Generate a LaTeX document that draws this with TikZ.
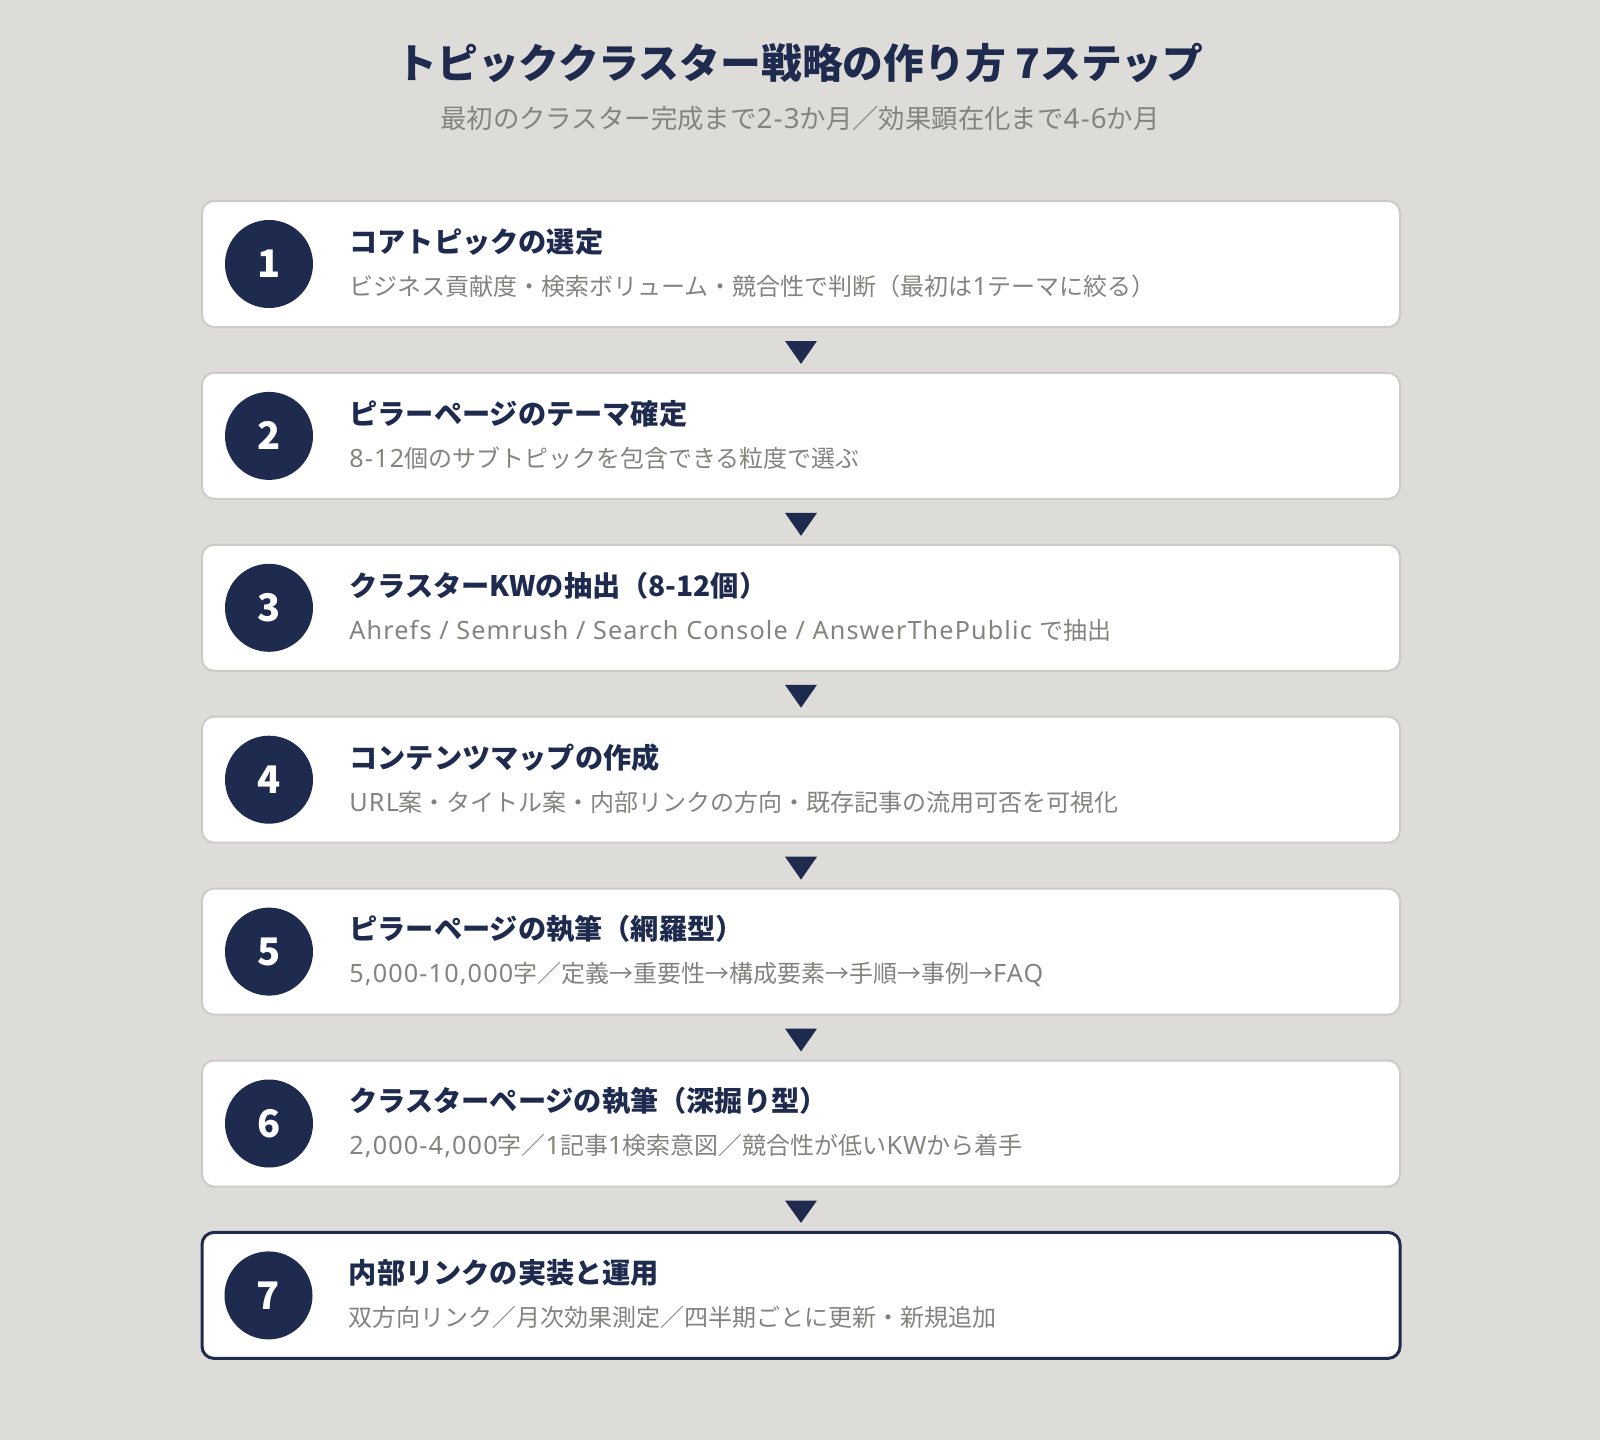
\documentclass[tikz,border=0pt]{standalone}
\usepackage{fontspec}
\setmainfont{Noto Sans}[Scale=1.05,LetterSpace=4.5,BoldFont={Noto Sans CJK JP/B},BoldFeatures={Scale=1,LetterSpace=0}]
\newfontfamily\cjkfont{Noto Sans CJK JP}
\usetikzlibrary{positioning,calc}
% Japanese characters go to the CJK font, the rest stays in Noto Sans
\XeTeXinterchartokenstate=1
\newXeTeXintercharclass\cjkclass
\newcount\cjkcode
\newcommand\markcjk[2]{\cjkcode=#1\relax
    \loop\XeTeXcharclass\cjkcode=\cjkclass\relax
    \ifnum\cjkcode<#2\advance\cjkcode by 1\repeat}
\markcjk{"3000}{"30FF}
\markcjk{"4E00}{"9FFF}
\markcjk{"FF00}{"FFEF}
\XeTeXcharclass"2192=\cjkclass
\XeTeXinterchartoks 0 \cjkclass={\begingroup\cjkfont}
\XeTeXinterchartoks 4095 \cjkclass={\begingroup\cjkfont}
\XeTeXinterchartoks \cjkclass 0={\endgroup}
\XeTeXinterchartoks \cjkclass 4095={\endgroup}
\definecolor{navy}{HTML}{1E2B4E}
\definecolor{paper}{HTML}{DEDCD8}
\definecolor{greytext}{HTML}{85837E}
\definecolor{rim}{HTML}{CDCBC6}
\tikzstyle{stepbox}=[draw=rim,line width=1pt,fill=white,rounded corners=6pt,minimum width=599pt,minimum height=63pt,inner sep=0pt]
\tikzstyle{finalbox}=[stepbox,draw=navy,line width=1.5pt]
\tikzstyle{badge}=[circle,fill=navy,minimum size=44pt,inner sep=0pt,text=white,font=\bfseries\fontsize{19}{19}\selectfont]
\tikzstyle{heading}=[anchor=west,text=navy,font=\bfseries\fontsize{14.1}{15}\selectfont,inner sep=0pt]
\tikzstyle{note}=[anchor=west,text=greytext,font=\fontsize{12}{13}\selectfont,inner sep=0pt]
\tikzstyle{pointer}=[fill=navy]
\begin{document}
\begin{tikzpicture}[x=0.5pt,y=-0.5pt]
    \useasboundingbox[fill=paper] (0,0) rectangle (1600,1440);
    % Title and subtitle
    \node[text=navy,font=\bfseries\fontsize{20.4}{22}\selectfont] (title) at (800,63) {トピッククラスター戦略の作り方 7ステップ};
    \node[text=greytext,font=\fontsize{13.2}{14}\selectfont] (subtitle) at (800,118) {最初のクラスター完成まで2-3か月／効果顕在化まで4-6か月};

    % The steps
    \foreach \i/\kind/\head/\desc in {
        1/stepbox/{コアトピックの選定}/{ビジネス貢献度・検索ボリューム・競合性で判断（最初は1テーマに絞る）},
        2/stepbox/{ピラーページのテーマ確定}/{8-12個のサブトピックを包含できる粒度で選ぶ},
        3/stepbox/{クラスターKWの抽出（8-12個）}/{Ahrefs / Semrush / Search Console / AnswerThePublic で抽出},
        4/stepbox/{コンテンツマップの作成}/{URL案・タイトル案・内部リンクの方向・既存記事の流用可否を可視化},
        5/stepbox/{ピラーページの執筆（網羅型）}/{5,000-10,000字／定義→重要性→構成要素→手順→事例→FAQ},
        6/stepbox/{クラスターページの執筆（深掘り型）}/{2,000-4,000字／1記事1検索意図／競合性が低いKWから着手},
        7/finalbox/{内部リンクの実装と運用}/{双方向リンク／月次効果測定／四半期ごとに更新・新規追加}}
    {
        \node[\kind] (step\i) at (801,{264+171.9*(\i-1)}) {};
        \node[badge] (num\i) at ($(step\i.west)+(34pt,0)$) {\i};
        \node[heading] (head\i) at ($(step\i.west)+(74pt,11.2pt)$) {\head};
        \node[note] (desc\i) at ($(step\i.west)+(74pt,-11.2pt)$) {\desc};
    }

    % Arrows between the steps
    \foreach \i [count=\j from 2] in {1,...,6}
        \fill[pointer] ($(step\i.south)+(-8pt,-6.5pt)$) -- ($(step\i.south)+(8pt,-6.5pt)$) -- ($(step\j.north)+(0,4pt)$) -- cycle;
\end{tikzpicture}
\end{document}
